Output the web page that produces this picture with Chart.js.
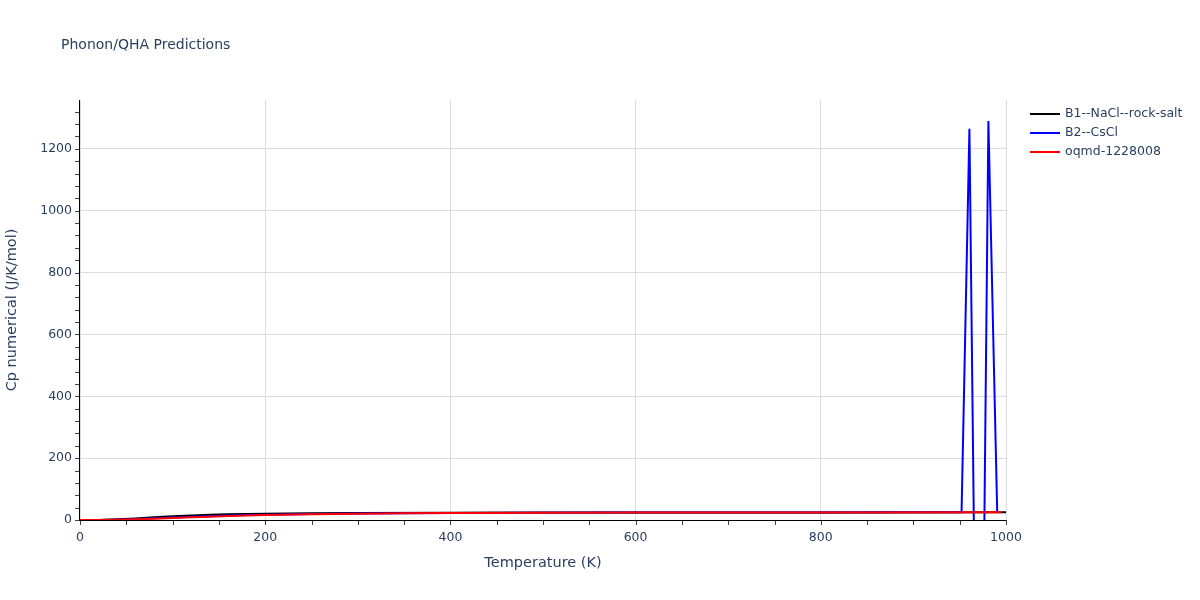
<!DOCTYPE html>
<html>
<head>
<meta charset="utf-8">
<script src="https://cdn.jsdelivr.net/npm/chart.js@4/dist/chart.umd.min.js"></script>
<style>
  html, body { margin: 0; padding: 0; background: #fff; }
  #wrap { width: 1200px; height: 600px; position: relative; }
</style>
</head>
<body>
<div id="wrap"><canvas id="c" width="1200" height="600"></canvas></div>
<script>
const chartTitle = "Phonon/QHA Predictions";
const xAxisTitle = "Temperature (K)";
const yAxisTitle = "Cp numerical (J/K/mol)";
const seriesNames = ["B1--NaCl--rock-salt", "B2--CsCl", "oqmd-1228008"];
const seriesColors = ["#000000", "#0000ff", "#ff0000"];

const b1Temps  = [0, 20, 40, 60, 80, 100, 120, 140, 160, 180, 200, 250, 300, 400, 500, 600, 800, 1000];
const b1Values = [0, 0.4, 2.2, 5.2, 8.5, 11.8, 14.6, 16.7, 18.2, 19.4, 20.3, 21.7, 22.5, 23.4, 23.9, 24.1, 24.5, 24.7];

const b2Temps  = [0, 20, 40, 60, 80, 100, 120, 140, 160, 180, 200, 250, 300, 400, 500, 600, 800, 900, 952, 960.5, 966, 976, 981, 990.5];
const b2Values = [0, 0.2, 1.2, 3.2, 5.6, 8.0, 10.4, 12.5, 14.4, 16.0, 17.3, 19.8, 21.2, 22.8, 23.6, 24.1, 24.6, 24.8, 25.0, 1265, -200, -200, 1290, 25.2];

const oqTemps  = [0, 20, 40, 60, 80, 100, 120, 140, 160, 180, 200, 250, 300, 350, 400, 500, 600, 800, 995];
const oqValues = [0, 0.1, 0.8, 2.3, 4.3, 6.5, 8.8, 10.9, 12.8, 14.5, 15.9, 18.6, 20.3, 21.5, 22.3, 23.3, 23.9, 24.5, 24.9];

const xTickStep = 200, xMinorStep = 50, xMin = 0, xMax = 1000;
const yTickStep = 200, yMinorStep = 40, yMin = 0, yMax = 1358;

const TEXT = "#2a3f5f";
const FONT = "'DejaVu Sans', Verdana, sans-serif";

function pts(xs, ys) { return xs.map((x, i) => ({ x: x, y: ys[i] })); }

const decor = {
  id: "decor",
  afterDraw(chart) {
    const ctx = chart.ctx;
    const xs = chart.scales.x, ys = chart.scales.y;
    const area = chart.chartArea;
    ctx.save();
    ctx.strokeStyle = "#444";
    ctx.lineWidth = 1;
    for (let v = xMin; v <= xMax + 1e-9; v += xMinorStep) {
      const px = Math.round(xs.getPixelForValue(v)) + 0.5;
      ctx.beginPath(); ctx.moveTo(px, area.bottom); ctx.lineTo(px, area.bottom + 5); ctx.stroke();
    }
    for (let v = yMin; v <= yMax; v += yMinorStep) {
      const py = Math.round(ys.getPixelForValue(v)) + 0.5;
      ctx.beginPath(); ctx.moveTo(area.left - 5, py); ctx.lineTo(area.left, py); ctx.stroke();
    }
    ctx.strokeStyle = "#000";
    ctx.beginPath(); ctx.moveTo(area.left - 0.5, area.top); ctx.lineTo(area.left - 0.5, area.bottom + 0.5); ctx.stroke();
    ctx.beginPath(); ctx.moveTo(area.left - 0.5, area.bottom + 0.5); ctx.lineTo(area.right, area.bottom + 0.5); ctx.stroke();
    ctx.fillStyle = TEXT;
    ctx.font = "14px " + FONT;
    ctx.textBaseline = "middle";
    ctx.textAlign = "left";
    ctx.fillText(chartTitle, 61, 45);
    ctx.font = "12.5px " + FONT;
    chart.data.datasets.forEach((ds, i) => {
      const y = 114 + i * 19;
      ctx.strokeStyle = ds.borderColor;
      ctx.lineWidth = 2;
      ctx.beginPath(); ctx.moveTo(1030, y); ctx.lineTo(1060, y); ctx.stroke();
      ctx.fillStyle = TEXT;
      ctx.fillText(ds.label, 1065, y);
    });
    ctx.restore();
  }
};

new Chart(document.getElementById("c"), {
  type: "line",
  data: {
    datasets: [
      { label: seriesNames[0], data: pts(b1Temps, b1Values), borderColor: seriesColors[0], order: 3 },
      { label: seriesNames[1], data: pts(b2Temps, b2Values), borderColor: seriesColors[1], order: 2 },
      { label: seriesNames[2], data: pts(oqTemps, oqValues), borderColor: seriesColors[2], order: 1 }
    ]
  },
  options: {
    responsive: false,
    animation: false,
    devicePixelRatio: 1,
    layout: { padding: { left: 0, right: 194, top: 100, bottom: 0 } },
    elements: {
      point: { radius: 0 },
      line: { borderWidth: 2, tension: 0, fill: false }
    },
    plugins: { legend: { display: false }, tooltip: { enabled: false } },
    scales: {
      x: {
        type: "linear", min: xMin, max: xMax,
        afterFit(s) { s.height = 80; },
        grid: { color: "#dcdcdc", drawTicks: false, drawOnChartArea: true },
        border: { display: false },
        ticks: { stepSize: xTickStep, padding: 10, color: TEXT, font: { family: FONT, size: 12.5 }, maxRotation: 0,
                 callback: v => String(v) },
        title: { display: true, text: xAxisTitle, color: TEXT, font: { family: FONT, size: 14.5 }, padding: { top: 4, bottom: 28 } }
      },
      y: {
        type: "linear", min: yMin, max: yMax,
        afterFit(s) { s.width = 80; },
        grid: { color: "#dcdcdc", drawTicks: false },
        border: { display: false },
        ticks: { stepSize: yTickStep, includeBounds: false, padding: 8, color: TEXT, font: { family: FONT, size: 12.5 },
                 callback: v => String(v) },
        title: { display: true, text: yAxisTitle, color: TEXT, font: { family: FONT, size: 14.5 }, padding: { bottom: 0 } }
      }
    }
  },
  plugins: [decor]
});
</script>
</body>
</html>
